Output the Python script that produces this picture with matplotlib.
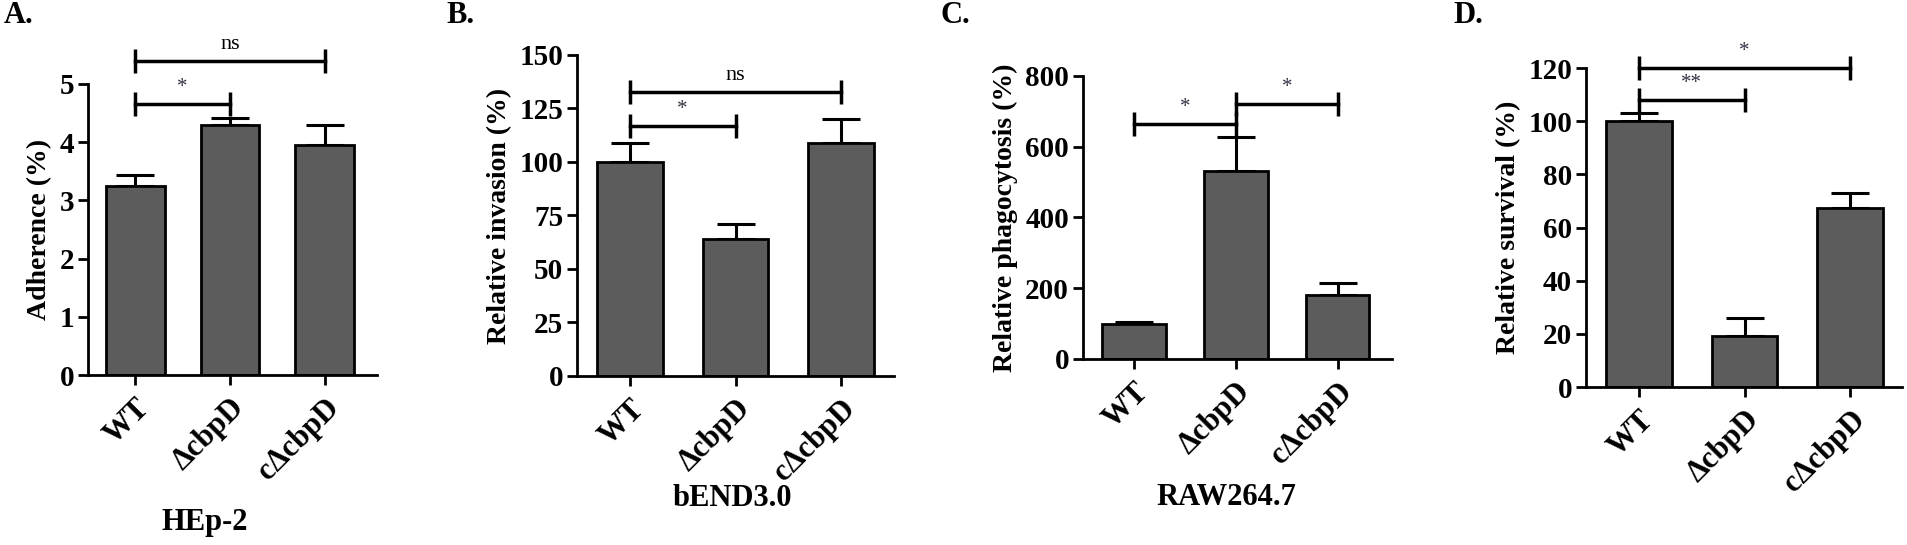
import matplotlib
matplotlib.use("Agg")
import matplotlib.pyplot as plt

plt.rcParams["font.family"] = ["Liberation Serif", "DejaVu Serif"]
plt.rcParams["font.weight"] = "bold"

strains = ["WT", "ΔcbpD", "cΔcbpD"]

# panel A - HEp-2 adherence
adherence = [3.25, 4.30, 3.95]
adherence_err = [0.18, 0.12, 0.35]
# panel B - bEND3.0 invasion
invasion = [100, 64, 109]
invasion_err = [9, 7, 11]
# panel C - RAW264.7 phagocytosis
phagocytosis = [100, 531, 181]
phagocytosis_err = [5, 96, 34]
# panel D - survival
survival = [100, 19, 67.5]
survival_err = [3, 7, 5.5]

# significance brackets: (left, right, height, label)
sig_a = [(0, 1, 4.66, "*"), (0, 2, 5.40, "ns")]
sig_b = [(0, 1, 117, "*"), (0, 2, 132.7, "ns")]
sig_c = [(0, 1, 664, "*"), (1, 2, 720, "*")]
sig_d = [(0, 1, 108, "**"), (0, 2, 120, "*")]

panels = [
    dict(letter="A.", vals=adherence, err=adherence_err, sig=sig_a,
         ylabel="Adherence (%)", yticks=[0, 1, 2, 3, 4, 5], cell="HEp-2",
         rect=[0.0461, 0.3119, 0.1515, 0.534], xmax=2.55),
    dict(letter="B.", vals=invasion, err=invasion_err, sig=sig_b,
         ylabel="Relative invasion (%)", yticks=[0, 25, 50, 75, 100, 125, 150],
         cell="bEND3.0", rect=[0.3026, 0.3101, 0.1662, 0.589], xmax=2.5),
    dict(letter="C.", vals=phagocytosis, err=phagocytosis_err, sig=sig_c,
         ylabel="Relative phagocytosis (%)", yticks=[0, 200, 400, 600, 800],
         cell="RAW264.7", rect=[0.5679, 0.3413, 0.162, 0.5193], xmax=2.53),
    dict(letter="D.", vals=survival, err=survival_err, sig=sig_d,
         ylabel="Relative survival (%)", yticks=[0, 20, 40, 60, 80, 100, 120],
         cell=None, rect=[0.8317, 0.2899, 0.1657, 0.5853], xmax=2.49),
]

letter_x = [0.002, 0.234, 0.493, 0.762]
cell_x = [0.1075, 0.384, 0.643, None]
cell_y = [0.042, 0.086, 0.088, None]

fig = plt.figure(figsize=(19.07, 5.45), dpi=100)

for i, p in enumerate(panels):
    ax = fig.add_axes(p["rect"])
    x = list(range(len(strains)))
    ax.bar(x, p["vals"], width=0.62, color="#5c5c5c", edgecolor="black",
           linewidth=2, zorder=2)
    ax.errorbar(x, p["vals"], yerr=[[0] * 3, p["err"]], fmt="none",
                ecolor="black", elinewidth=2.2, capsize=14, capthick=2.2, zorder=1)
    top = p["yticks"][-1]
    ax.set_xlim(-0.5, p["xmax"])
    ax.set_ylim(0, top)
    ax.set_yticks(p["yticks"])
    ax.set_xticks(x)
    ax.set_xticklabels(strains, rotation=45, ha="right", rotation_mode="anchor",
                       fontsize=22, fontweight="bold")
    ax.tick_params(axis="y", labelsize=21, width=2, length=7, direction="out", pad=3)
    ax.tick_params(axis="x", width=2, length=7, direction="out", pad=6)
    for lab in ax.get_yticklabels():
        lab.set_fontweight("bold")
    for s in ["top", "right"]:
        ax.spines[s].set_visible(False)
    for s in ["left", "bottom"]:
        ax.spines[s].set_linewidth(2)
    ax.set_ylabel(p["ylabel"], fontsize=20, fontweight="bold", labelpad=5)

    for x1, x2, h, lab in p["sig"]:
        ax.plot([x1, x2], [h, h], color="black", lw=2.5, marker="|",
                markersize=17, mew=2.5, clip_on=False, zorder=3)
        ax.annotate(lab, xy=((x1 + x2) / 2, h), xytext=(0, 5),
                    textcoords="offset points", ha="center", va="bottom",
                    fontsize=16 if lab == "ns" else 15, fontweight="normal",
                    color="black" if lab == "ns" else "#333344",
                    annotation_clip=False)

    fig.text(letter_x[i], 0.972, p["letter"], fontsize=22, fontweight="bold",
             ha="left", va="center")
    if p["cell"]:
        fig.text(cell_x[i], cell_y[i], p["cell"], fontsize=22, fontweight="bold",
                 ha="center", va="center")

fig.savefig("out.png", dpi=100)
